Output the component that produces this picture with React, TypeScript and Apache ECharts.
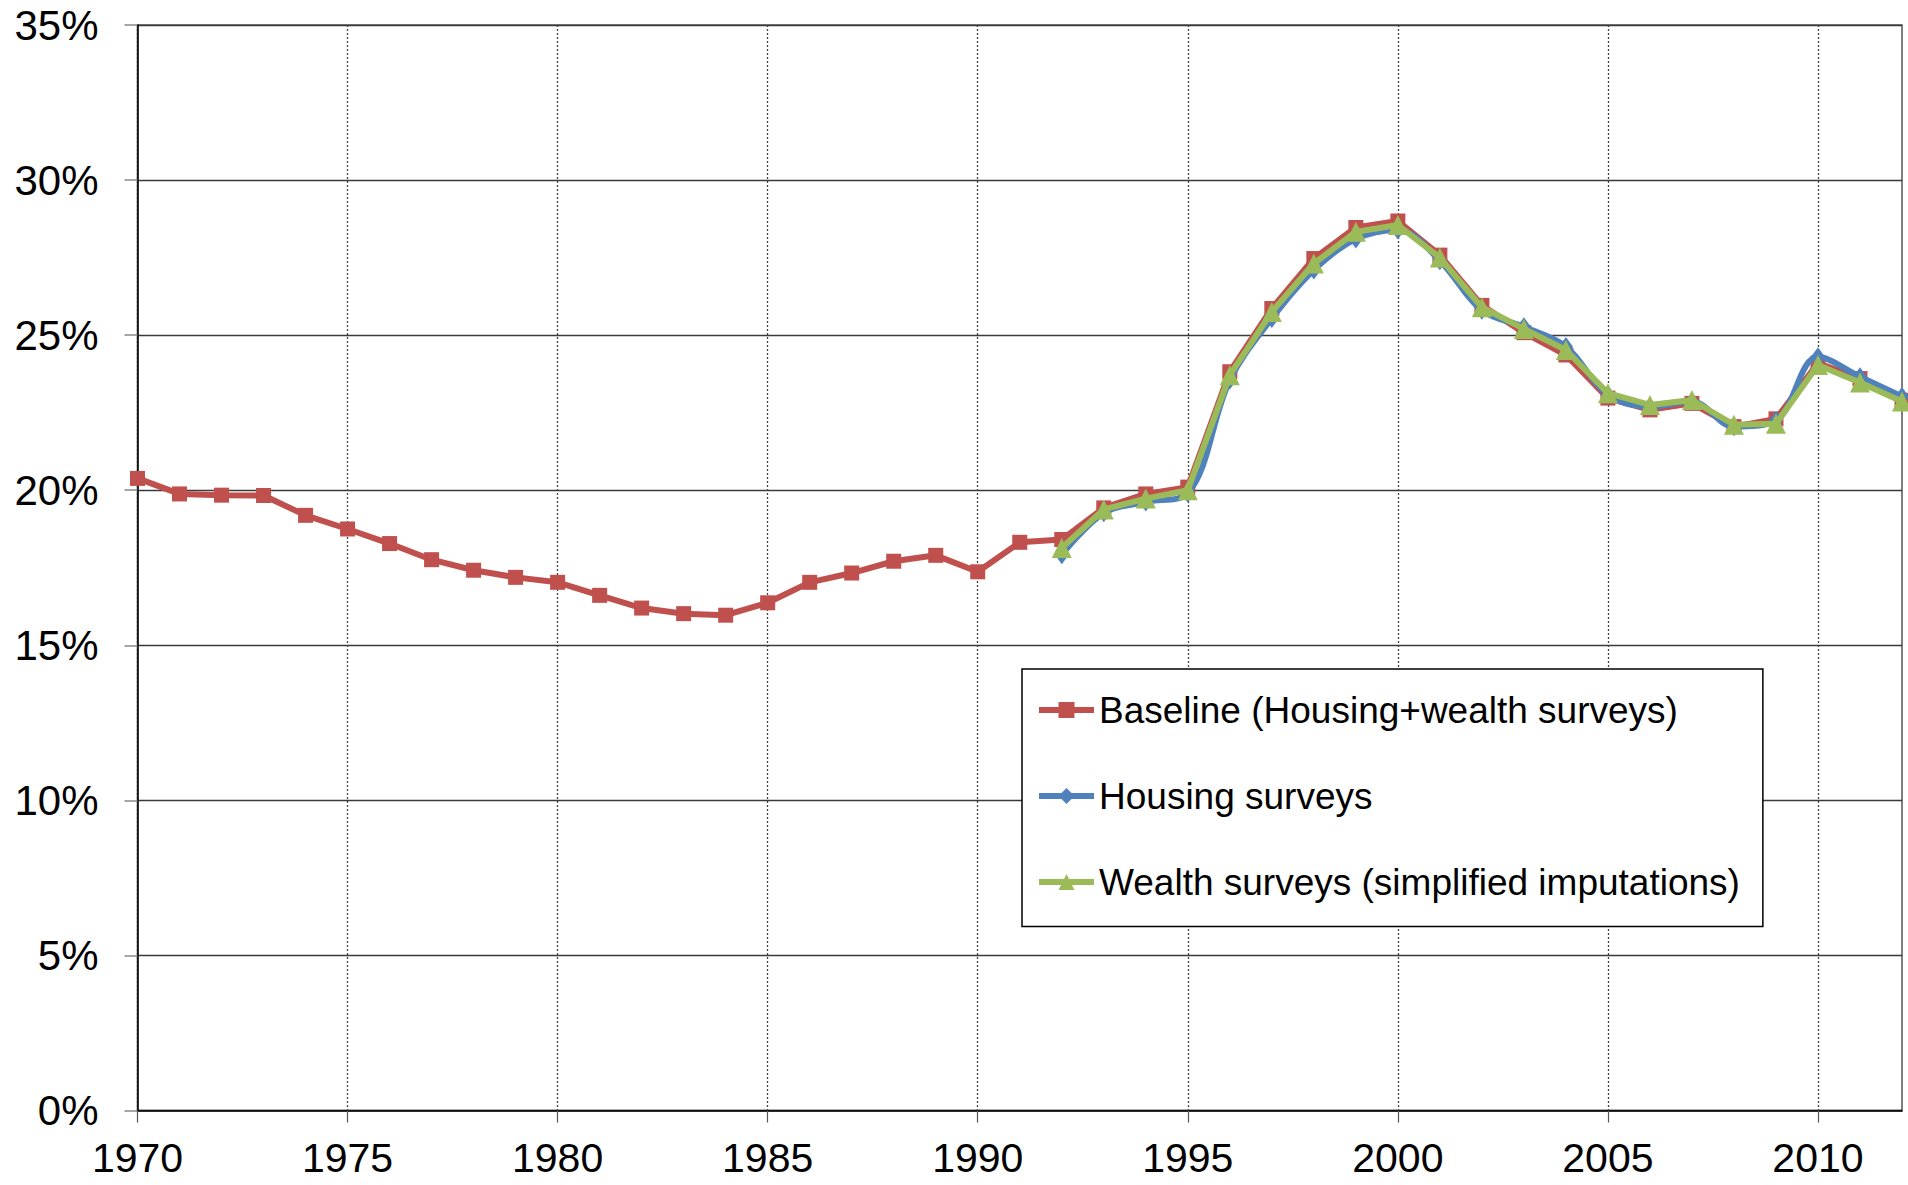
import React, { useEffect, useRef } from "react";
import * as echarts from "echarts";

const baselineYears = [
  1970, 1971, 1972, 1973, 1974, 1975, 1976, 1977, 1978, 1979, 1980, 1981, 1982, 1983, 1984,
  1985, 1986, 1987, 1988, 1989, 1990, 1991, 1992, 1993, 1994, 1995, 1996, 1997, 1998, 1999,
  2000, 2001, 2002, 2003, 2004, 2005, 2006, 2007, 2008, 2009, 2010, 2011, 2012,
];
const baselineValues = [
  20.38, 19.88, 19.84, 19.83, 19.19, 18.75, 18.28, 17.76, 17.42, 17.19, 17.03, 16.61, 16.2, 16.02, 15.97,
  16.37, 17.03, 17.33, 17.71, 17.9, 17.37, 18.32, 18.41, 19.43, 19.88, 20.1, 23.82, 25.86, 27.47, 28.47,
  28.68, 27.58, 25.96, 25.08, 24.36, 22.97, 22.59, 22.8, 22.05, 22.3, 24.1, 23.6, 22.9,
];

const surveyYears = [
  1992, 1993, 1994, 1995, 1996, 1997, 1998, 1999, 2000, 2001, 2002,
  2003, 2004, 2005, 2006, 2007, 2008, 2009, 2010, 2011, 2012,
];
const housingValues = [
  17.92, 19.27, 19.62, 19.9, 23.55, 25.54, 27.1, 28.1, 28.39, 27.4, 25.8,
  25.27, 24.63, 23.08, 22.7, 22.86, 22.05, 22.25, 24.3, 23.66, 23.02,
];
const wealthValues = [
  18.14, 19.38, 19.73, 20.0, 23.71, 25.75, 27.31, 28.33, 28.55, 27.5, 25.9,
  25.2, 24.52, 23.13, 22.75, 22.91, 22.11, 22.14, 24.04, 23.47, 22.86,
];

const xTickLabels = [1970, 1975, 1980, 1985, 1990, 1995, 2000, 2005, 2010];
const yTicks = [0, 5, 10, 15, 20, 25, 30, 35];

const seriesNames = [
  "Baseline (Housing+wealth surveys)",
  "Housing surveys",
  "Wealth surveys (simplified imputations)",
];

const FONT = "'Liberation Sans', Arial, sans-serif";

function pairs(xs: number[], ys: number[]) {
  return xs.map((x, i) => [x, ys[i]]);
}

export default function App() {
  const ref = useRef<HTMLDivElement>(null);

  useEffect(() => {
    if (!ref.current) return;
    const chart = echarts.init(ref.current, null, { renderer: "svg" });
    chart.setOption({
      animation: false,
      backgroundColor: "#ffffff",
      grid: {
        left: 137.5,
        right: 6,
        top: 25,
        bottom: 74.5,
        show: true,
        borderColor: "#555555",
        borderWidth: 1.5,
        backgroundColor: "transparent",
      },
      legend: {
        orient: "vertical",
        left: 1022,
        top: 669,
        backgroundColor: "#ffffff",
        borderColor: "#000000",
        borderWidth: 1.5,
        padding: [22.5, 23, 26, 14],
        itemWidth: 55,
        itemHeight: 20,
        itemGap: 49,
        data: seriesNames,
        lineStyle: { width: 6 },
        textStyle: { fontSize: 37, fontFamily: FONT, color: "#000" },
      },
      xAxis: {
        type: "value",
        min: 1970,
        max: 2012,
        interval: 5,
        axisLine: { show: true, onZero: false, lineStyle: { color: "#000", width: 1.5 } },
        axisTick: {
          show: true,
          length: 12,
          customValues: xTickLabels,
          lineStyle: { color: "#555", width: 1.2 },
        },
        axisLabel: {
          customValues: xTickLabels,
          margin: 27,
          fontSize: 41,
          fontFamily: FONT,
          color: "#000",
          formatter: (v: number) => String(v),
        },
        splitLine: {
          show: true,
          lineStyle: { color: "#444444", width: 1.3, type: [2, 2] },
        },
      },
      yAxis: {
        type: "value",
        min: 0,
        max: 35,
        interval: 5,
        axisLine: { show: true, lineStyle: { color: "#000", width: 1.5 } },
        axisTick: {
          show: true,
          length: 13,
          customValues: yTicks,
          lineStyle: { color: "#888", width: 1.5 },
        },
        axisLabel: {
          customValues: yTicks,
          margin: 39,
          fontSize: 42,
          fontFamily: FONT,
          color: "#000",
          formatter: (v: number) => v + "%",
        },
        splitLine: {
          show: true,
          lineStyle: { color: "#3a3a3a", width: 1.3 },
        },
      },
      series: [
        {
          name: seriesNames[0],
          type: "line",
          data: pairs(baselineYears, baselineValues),
          symbol: "rect",
          symbolSize: 15,
          lineStyle: { color: "#C0504D", width: 6 },
          itemStyle: { color: "#C0504D" },
          z: 2,
        },
        {
          name: seriesNames[1],
          type: "line",
          data: pairs(surveyYears, housingValues),
          symbol: "diamond",
          symbolSize: [14, 19],
          smooth: 0.35,
          lineStyle: { color: "#4F81BD", width: 6 },
          itemStyle: { color: "#4F81BD" },
          z: 3,
        },
        {
          name: seriesNames[2],
          type: "line",
          data: pairs(surveyYears, wealthValues),
          symbol: "triangle",
          symbolSize: 20,
          lineStyle: { color: "#9BBB59", width: 6 },
          itemStyle: { color: "#9BBB59" },
          z: 4,
        },
      ],
    });
    return () => chart.dispose();
  }, []);

  return (
    <div
      ref={ref}
      style={{ position: "absolute", left: 0, top: 0, width: 1908, height: 1185, background: "#fff" }}
    />
  );
}
